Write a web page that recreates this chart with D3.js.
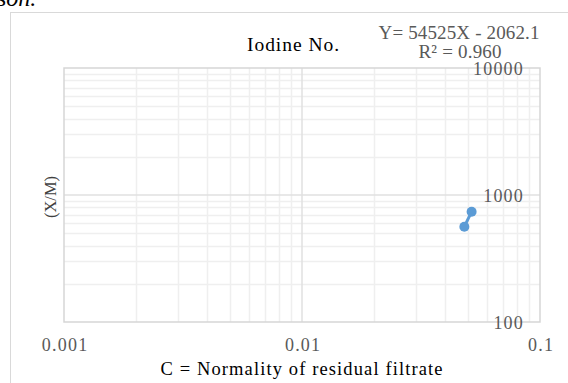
<!DOCTYPE html>
<html>
<head>
<meta charset="utf-8">
<script src="https://cdn.jsdelivr.net/npm/d3@7"></script>
<style>
  html, body { margin: 0; padding: 0; background: #fff; }
  svg { display: block; }
</style>
</head>
<body>
<svg id="chart" width="568" height="383"></svg>
<script>
// ---- data ----
const concentration = [0.0481, 0.0516];     // C = Normality of residual filtrate
const xOverM = [563, 739];                   // (X/M)
const xTicks = [0.001, 0.01, 0.1];
const xTickLabels = ["0.001", "0.01", "0.1"];
const yTicks = [100, 1000, 10000];
const yTickLabels = ["100", "1000", "10000"];
const titleText = "Iodine No.";
const equationLines = ["Y= 54525X - 2062.1", "R² = 0.960"];
const xTitle = "C = Normality  of residual filtrate";
const yTitle = "(X/M)";

// ---- layout ----
const svg = d3.select("#chart");
const plot = { left: 64, right: 540, top: 68, bottom: 322 };
const serif = "'Liberation Serif', 'Times New Roman', serif";

const x = d3.scaleLog().domain([0.001, 0.1]).range([plot.left, plot.right]);
const y = d3.scaleLog().domain([100, 10000]).range([plot.bottom, plot.top]);

// cropped text from surrounding document (cut off in the reference too)
svg.append("text").attr("x", -3).attr("y", 6)
  .attr("font-family", serif).attr("font-style", "italic").attr("font-size", 24)
  .attr("fill", "#000").text("son.");

// outer chart frame (extends beyond visible area at right/bottom)
svg.append("rect").attr("x", 10.5).attr("y", 12.5).attr("width", 600).attr("height", 400)
  .attr("fill", "#fff").attr("stroke", "#d9d9d9").attr("stroke-width", 1);

// minor grid values
const minorX = [], minorY = [];
[0.001, 0.01].forEach(d => { for (let k = 2; k <= 9; k++) minorX.push(d * k); });
[100, 1000].forEach(d => { for (let k = 2; k <= 9; k++) minorY.push(d * k); });

const grid = svg.append("g");
grid.selectAll("line.mx").data(minorX).join("line")
  .attr("x1", d => Math.round(x(d)) + 0.5).attr("x2", d => Math.round(x(d)) + 0.5)
  .attr("y1", plot.top).attr("y2", plot.bottom)
  .attr("stroke", "#efefef").attr("stroke-width", 1.5);
grid.selectAll("line.my").data(minorY).join("line")
  .attr("y1", d => Math.round(y(d)) + 0.5).attr("y2", d => Math.round(y(d)) + 0.5)
  .attr("x1", plot.left).attr("x2", plot.right)
  .attr("stroke", "#efefef").attr("stroke-width", 1.5);
grid.selectAll("line.Mx").data(xTicks.slice(1, -1)).join("line")
  .attr("x1", d => x(d)).attr("x2", d => x(d))
  .attr("y1", plot.top).attr("y2", plot.bottom)
  .attr("stroke", "#e0e0e0").attr("stroke-width", 1.5);
grid.selectAll("line.My").data(yTicks.slice(1, -1)).join("line")
  .attr("y1", d => y(d)).attr("y2", d => y(d))
  .attr("x1", plot.left).attr("x2", plot.right)
  .attr("stroke", "#e0e0e0").attr("stroke-width", 1.5);

// plot border
svg.append("rect").attr("x", plot.left).attr("y", plot.top)
  .attr("width", plot.right - plot.left).attr("height", plot.bottom - plot.top)
  .attr("fill", "none").attr("stroke", "#d6d6d6").attr("stroke-width", 1.5);

// x axis labels
const xAxis = d3.axisBottom(x).tickValues(xTicks)
  .tickFormat((d, i) => xTickLabels[i]).tickSize(0).tickPadding(0);
const gx = svg.append("g").attr("transform", `translate(0,${plot.bottom + 29})`).call(xAxis);
gx.select(".domain").remove();
gx.selectAll("text").attr("font-family", serif).attr("font-size", 18)
  .attr("letter-spacing", "1.2px")
  .attr("fill", "#595959").attr("dy", 0).attr("dx", 0.6);

// y axis labels (inside plot, right-aligned)
const yAxis = d3.axisLeft(y).tickValues(yTicks)
  .tickFormat((d, i) => yTickLabels[i]).tickSize(0).tickPadding(0);
const gy = svg.append("g").attr("transform", `translate(524,0)`).call(yAxis);
gy.select(".domain").remove();
gy.selectAll("text").attr("font-family", serif).attr("font-size", 18)
  .attr("letter-spacing", "1.2px")
  .attr("fill", "#595959").attr("dy", "0.35em");

// series line + markers
const line = d3.line().x(d => x(d[0])).y(d => y(d[1]));
const pts = concentration.map((c, i) => [c, xOverM[i]]);
svg.append("path").datum(pts).attr("d", line)
  .attr("fill", "none").attr("stroke", "#5b9bd5").attr("stroke-width", 3);
svg.selectAll("circle.pt").data(pts).join("circle")
  .attr("cx", d => x(d[0])).attr("cy", d => y(d[1])).attr("r", 5)
  .attr("fill", "#5b9bd5");

// title
svg.append("text").attr("x", 293).attr("y", 51).attr("text-anchor", "middle")
  .attr("font-family", serif).attr("font-size", 19.5).attr("fill", "#000")
  .attr("textLength", 92).attr("lengthAdjust", "spacing")
  .text(titleText);

// trendline equation
svg.append("text").attr("x", 459).attr("y", 39).attr("text-anchor", "middle")
  .attr("font-family", serif).attr("font-size", 19).attr("fill", "#595959")
  .attr("textLength", 161).attr("lengthAdjust", "spacing")
  .text(equationLines[0]);
svg.append("text").attr("x", 460).attr("y", 58).attr("text-anchor", "middle")
  .attr("font-family", serif).attr("font-size", 19).attr("fill", "#595959")
  .attr("textLength", 83).attr("lengthAdjust", "spacing")
  .text(equationLines[1]);

// axis titles
svg.append("text").attr("x", 301.5).attr("y", 375).attr("text-anchor", "middle")
  .attr("font-family", serif).attr("font-size", 18.5).attr("fill", "#000")
  .attr("textLength", 282).attr("lengthAdjust", "spacing")
  .text(xTitle);
svg.append("text").attr("transform", "translate(56,197) rotate(-90)")
  .attr("text-anchor", "middle")
  .attr("font-family", serif).attr("font-size", 16.5).attr("fill", "#404040")
  .text(yTitle);
</script>
</body>
</html>
